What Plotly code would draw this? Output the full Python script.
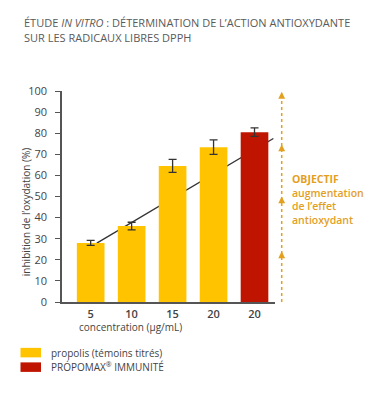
import plotly.graph_objects as go

# ---- data ----
categories = ["5", "10", "15", "20", "20"]
values = [28, 36, 64.5, 73.4, 80.5]
errors = [1.2, 1.8, 3.1, 3.4, 2.0]
series = ["propolis", "propolis", "propolis", "propolis", "propomax"]
trend_x = [0.15, 4.46]
trend_y = [27.9, 77.5]
arrow_levels = [24, 50, 74.7, 99.6]
y_ticks = [0, 10, 20, 30, 40, 50, 60, 70, 80, 90, 100]

YELLOW = "#FFC300"
RED = "#BF1500"
ORANGE = "#E3A01F"
GREY = "#555555"
TXT = "#444444"
FONT = "Open Sans"

# page offset (body margin) and plot area geometry in page pixels
OFF = 8
L, R, T, B = 62, 275, 91, 301.7
W, H = 380 - OFF, 394 - OFF
X_RANGE = [-0.7, 4.5]


def px(x):
    return (x - L) / (R - L)


def py(y):
    return (B - y) / (B - T)


positions = list(range(len(categories)))
colors = [YELLOW if s == "propolis" else RED for s in series]

fig = go.Figure()
# trend line (underneath the bars)
fig.add_trace(go.Scatter(x=trend_x, y=trend_y, mode="lines",
                         line=dict(color="#333333", width=1.3),
                         showlegend=False, hoverinfo="skip"))
# bars on overlay axes so they sit above the trend line
fig.add_trace(go.Bar(x=positions, y=values, width=0.675, xaxis="x2", yaxis="y2",
                     marker=dict(color=colors, line=dict(width=0)),
                     error_y=dict(type="data", array=errors, color="#333333",
                                  thickness=1.3, width=4),
                     showlegend=False))

# objective dotted line with arrowheads
fig.add_shape(type="line", xref="paper", yref="y", x0=px(281.7), x1=px(281.7),
              y0=0, y1=99, line=dict(color=ORANGE, width=1.5, dash="dot"), layer="below")
for lv in arrow_levels:
    fig.add_annotation(xref="paper", yref="y", x=px(281.7), y=lv, ax=0, ay=5,
                       text="", showarrow=True, arrowhead=2, arrowsize=1.05,
                       arrowwidth=1.3, arrowcolor=ORANGE)

# faint left edge line
fig.add_shape(type="line", xref="paper", yref="paper", x0=px(1.5), x1=px(1.5),
              y0=py(308), y1=py(380), line=dict(color="#DDDDDD", width=1.5))

ann = []
ann.append(dict(x=px(22), y=py(23), text="ÉTUDE <i>IN VITRO</i> : DÉTERMINATION DE L’ACTION ANTIOXYDANTE",
                font=dict(size=11, color="#5A5A5A", family=FONT)))
ann.append(dict(x=px(22), y=py(38), text="SUR LES RADICAUX LIBRES DPPH",
                font=dict(size=11, color="#5A5A5A", family=FONT)))
ann.append(dict(x=px(290), y=py(199.5),
                text="<b>OBJECTIF</b><br>augmentation<br>de l’effet<br>antioxydant",
                align="left",
                font=dict(size=10.5, color=ORANGE, family=FONT, weight=600)))
ann.append(dict(x=px(77), y=py(326.5), text="concentration (µg/mL)",
                font=dict(size=10, color=TXT, family=FONT)))
ann.append(dict(x=px(49), y=py(352.5), text="propolis (témoins titrés)",
                font=dict(size=10, color=TXT, family=FONT)))
ann.append(dict(x=px(49), y=py(367), text="PRÓPOMAX<sup>®</sup> IMMUNITÉ",
                font=dict(size=10, color=TXT, family=FONT)))
for a in ann:
    fig.add_annotation(xref="paper", yref="paper", xanchor="left", yanchor="middle",
                       showarrow=False, **a)

# y axis title as rotated text
fig.add_annotation(xref="paper", yref="paper", x=px(26), y=py(212), xanchor="center",
                   yanchor="middle", textangle=-90, showarrow=False,
                   text="inhibition de l’oxydation (%)",
                   font=dict(size=10, color=TXT, family=FONT))

# legend swatches
for y0, c in [(347.5, YELLOW), (362, RED)]:
    fig.add_shape(type="rect", xref="paper", yref="paper", x0=px(20.5), x1=px(41),
                  y0=py(y0), y1=py(y0 + 9.5), fillcolor=c, line=dict(width=0))

fig.update_layout(
    width=W, height=H,
    margin=dict(l=L - OFF, r=W - (R - OFF), t=T - OFF, b=H - (B - OFF), pad=0),
    paper_bgcolor="white", plot_bgcolor="white",
    font=dict(family=FONT, color=TXT),
    xaxis=dict(range=X_RANGE, tickvals=positions, ticktext=categories,
               showgrid=False, zeroline=False, showline=True, linecolor=GREY,
               linewidth=1.5, ticks="", fixedrange=True, ticklabelstandoff=1,
               tickfont=dict(size=11, color=TXT, family=FONT, weight=600)),
    yaxis=dict(range=[0, 100], tickvals=y_ticks, showgrid=False, zeroline=False,
               showline=True, linecolor=GREY, linewidth=1.5, ticks="outside",
               ticklen=5, tickcolor=GREY, tickwidth=1.2, ticklabelstandoff=6,
               tickfont=dict(size=11, color=TXT)),
    xaxis2=dict(range=X_RANGE, overlaying="x", visible=False, fixedrange=True),
    yaxis2=dict(range=[0, 100], overlaying="y", visible=False),
)

fig.write_html("out.html")
